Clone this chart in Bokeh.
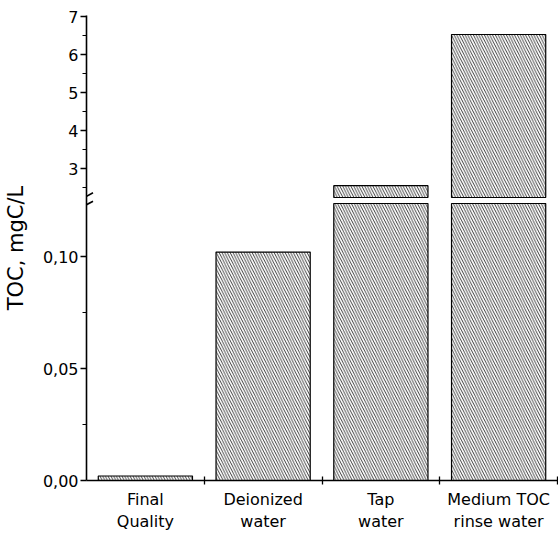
import numpy as np
from bokeh.plotting import figure
from bokeh.models import Range1d, FixedTicker, Arrow
from bokeh.embed import file_html
from bokeh.resources import INLINE

# ---------------- data ----------------
categories = ["Final\nQuality", "Deionized\nwater", "Tap\nwater", "Medium TOC\nrinse water"]
toc_values = [0.002, 0.102, 2.55, 6.53]

lower_ticks = [0.0, 0.05, 0.10]
lower_tick_labels = ["0,00", "0,05", "0,10"]
lower_minor_ticks = [0.025, 0.075]
upper_ticks = [3, 4, 5, 6, 7]
upper_tick_labels = ["3", "4", "5", "6", "7"]
upper_minor_ticks = [2.5, 3.5, 4.5, 5.5, 6.5]

# ---------------- broken-axis layout ----------------
LOW_MIN, LOW_MAX = 0.0, 0.1237     # lower segment (mgC/L)
UP_MIN, UP_MAX = 2.24, 7.03        # upper segment (mgC/L)
FRAME_H = 465
F_LOW = 277 / FRAME_H              # frame fraction taken by the lower segment
F_UP = 283 / FRAME_H               # frame fraction where the upper segment starts

main_end = LOW_MAX / F_LOW
up_span = (UP_MAX - UP_MIN) / (1 - F_UP)
up_start = UP_MAX - up_span
px = main_end / FRAME_H            # one pixel in main-range units


def up_to_main(v):
    return (F_UP + (v - UP_MIN) / (UP_MAX - UP_MIN) * (1 - F_UP)) * main_end


FONT = "DejaVu Sans"

p = figure(width=558, height=535, output_backend="svg", toolbar_location=None,
           x_range=Range1d(0, len(categories)), y_range=Range1d(LOW_MIN, main_end),
           min_border_left=86, min_border_right=1, min_border_top=15, min_border_bottom=55)
p.extra_y_ranges = {"upper": Range1d(up_start, UP_MAX)}
p.outline_line_color = None
p.grid.visible = False
p.background_fill_color = "white"
p.border_fill_color = "white"

x_pos = list(np.arange(len(categories)) + 0.5)
vals = np.array(toc_values)

bar_style = dict(width=0.8, fill_color="white", line_color="black", line_width=1.2,
                 hatch_pattern="left_diagonal_line", hatch_color="#2a2a2a",
                 hatch_scale=5.5, hatch_weight=0.9)

# lower pieces
p.vbar(x=x_pos, bottom=LOW_MIN, top=list(np.minimum(vals, LOW_MAX)), **bar_style)
# upper pieces (values beyond the break)
mask = vals > LOW_MAX
p.vbar(x=list(np.array(x_pos)[mask]), bottom=UP_MIN, top=list(vals[mask]),
       y_range_name="upper", **bar_style)

# ---------------- y axis ----------------
yax = p.yaxis[0]
ytick_pos = lower_ticks + [up_to_main(t) for t in upper_ticks]
yminor_pos = lower_minor_ticks + [up_to_main(t) for t in upper_minor_ticks]
yax.ticker = FixedTicker(ticks=ytick_pos, minor_ticks=yminor_pos)
yax.major_label_overrides = dict(zip(ytick_pos, lower_tick_labels + upper_tick_labels))
yax.axis_label = "TOC, mgC/L"
yax.axis_label_text_font = FONT
yax.axis_label_text_font_size = "21px"
yax.axis_label_text_font_style = "normal"
yax.axis_label_text_color = "black"
yax.axis_label_standoff = 12
yax.major_label_text_font = FONT
yax.major_label_text_font_size = "16px"
yax.major_label_text_color = "black"
yax.major_label_standoff = 2
yax.axis_line_width = 1.6
yax.axis_line_color = "black"
yax.major_tick_line_color = "black"
yax.major_tick_line_width = 1.3
yax.major_tick_in = 0
yax.major_tick_out = 6
yax.minor_tick_line_color = "black"
yax.minor_tick_line_width = 1.2
yax.minor_tick_in = 0
yax.minor_tick_out = 4

# ---------------- x axis ----------------
xax = p.xaxis[0]
x_bounds = list(np.arange(1, len(categories) + 1).astype(float))
xax.ticker = FixedTicker(ticks=x_pos, minor_ticks=x_bounds)
xax.major_label_overrides = dict(zip(x_pos, categories))
xax.major_label_text_font = FONT
xax.major_label_text_font_size = "16px"
xax.major_label_text_color = "black"
xax.major_label_text_line_height = 1.2
xax.major_label_standoff = 5
xax.major_tick_line_color = None
xax.major_tick_in = 0
xax.major_tick_out = 0
xax.minor_tick_line_color = "black"
xax.minor_tick_line_width = 1.3
xax.minor_tick_in = 4
xax.minor_tick_out = 4
xax.axis_line_width = 1.6
xax.axis_line_color = "black"

# ---------------- break marks ----------------
gap_mid = (F_LOW + F_UP) / 2 * main_end
dx = 6.5 / 471 * len(categories)
for off in (4.2, -4.2):
    yc = gap_mid + off * px
    p.add_layout(Arrow(end=None, x_start=-dx, y_start=yc - 3.5 * px,
                       x_end=dx, y_end=yc + 3.5 * px,
                       line_color="black", line_width=1.6))

open("out.html", "w").write(file_html(p, INLINE))
